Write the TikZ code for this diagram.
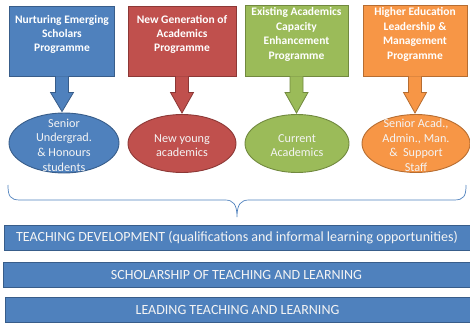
\documentclass[tikz,border=0pt]{standalone}
\usepackage{fontspec}
\setmainfont{Carlito}
\usetikzlibrary{calc,shapes.geometric}
\definecolor{cblue}{HTML}{4F81BD}\definecolor{dblue}{HTML}{385D8A}
\definecolor{cred}{HTML}{C0504D}\definecolor{dred}{HTML}{8C3836}
\definecolor{cgreen}{HTML}{9BBB59}\definecolor{dgreen}{HTML}{71893F}
\definecolor{corange}{HTML}{F79646}\definecolor{dorange}{HTML}{B66D31}
\definecolor{txt}{HTML}{F4F4F4}
\tikzset{
  progbox/.style={draw=#1, line width=0.9pt, minimum width=105pt, minimum height=70pt, inner sep=0pt},
  progtext/.style={text=white, font=\bfseries\fontsize{11.5}{14.4}\selectfont, align=center, inner sep=0pt},
  grpell/.style={ellipse, draw=#1, line width=0.9pt, minimum width=108pt, minimum height=58pt, inner sep=0pt},
  elltext/.style={text=txt, font=\fontsize{12.2}{14.6}\selectfont, align=center, inner sep=0pt},
  bar/.style={fill=cblue, draw=dblue, line width=0.9pt, minimum width=#1, minimum height=25pt, inner sep=0pt, text=txt, font=\fontsize{14}{16}\selectfont},
  bracepath/.style={draw=cblue, line width=0.7pt}
}
\newcommand{\blockarrow}[4]{% from node, to node, fill, draw
  \path let \p1=(#1.south), \p2=(#2.north) in
    coordinate (s) at (\x1,\y1) coordinate (e) at (\x1,\y2);
  \filldraw[fill=#3, draw=#4, line width=0.8pt, line join=miter]
    ($(s)+(-6.5,0)$) -- ($(s)+(-6.5,16)$) -- ($(s)+(-11.5,16)$) -- ($(e)+(0,-1)$)
    -- ($(s)+(11.5,16)$) -- ($(s)+(6.5,16)$) -- ($(s)+(6.5,0)$);
}
\begin{document}
\begin{tikzpicture}[x=1pt,y=-1pt]
\useasboundingbox (0,0) rectangle (470,324);
% program boxes
\node[progbox=dblue, fill=cblue] (b1) at (62,41) {};
\node[progbox=dred, fill=cred, minimum width=108pt] (b2) at (182,41) {};
\node[progbox=dgreen, fill=cgreen, minimum width=103pt, minimum height=71pt] (b3) at (296.5,40.5) {};
\node[progbox=dorange, fill=corange, minimum width=104pt, minimum height=71pt] (b4) at (415,40.5) {};
\node[progtext] (t1) at (62,34.5) {Nurturing Emerging\\Scholars\\Programme};
\node[progtext] (t2) at (182,34.5) {New Generation of\\Academics\\Programme};
\node[progtext] (t3) at (296.5,34.5) {Existing Academics\\Capacity\\Enhancement\\Programme};
\node[progtext] (t4) at (415,34.5) {Higher Education\\Leadership \&\\Management\\Programme};
% group ellipses
\node[grpell=dblue, fill=cblue, minimum width=110pt, minimum height=60pt] (e1) at (64,143) {};
\node[grpell=dred, fill=cred] (e2) at (182,143.5) {};
\node[grpell=dgreen, fill=cgreen, minimum width=104pt] (e3) at (297,143.5) {};
\node[grpell=dorange, fill=corange] (e4) at (416,143.5) {};
\node[elltext] (f1) at (64,145) {Senior\\Undergrad.\\\& Honours\\students};
\node[elltext] (f2) at (182,145.5) {New young\\academics};
\node[elltext] (f3) at (297,145.5) {Current\\Academics};
\node[elltext] (f4) at (416,145.5) {Senior Acad.,\\Admin., Man.\\\&\ \ Support\\Staff};
% block arrows
\blockarrow{b1}{e1}{cblue}{dblue}
\blockarrow{b2}{e2}{cred}{dred}
\blockarrow{b3}{e3}{cgreen}{dgreen}
\blockarrow{b4}{e4}{corange}{dorange}
% brace
\coordinate (bl) at (8,185);
\coordinate (br) at (466,185);
\coordinate (bt) at (237,217);
\draw[bracepath] (bl) .. controls (8,196) and (10,200) .. (20,200) -- (225,200)
  .. controls (233,200) and (237,204) .. (bt)
  .. controls (237,204) and (241,200) .. (249,200) -- (454,200)
  .. controls (464,200) and (466,196) .. (br);
% bars
\node[bar=466pt] (r1) at (237,238) {TEACHING DEVELOPMENT (qualifications and informal learning opportunities)};
\node[bar=467pt] (r2) at (236.5,274.5) {SCHOLARSHIP OF TEACHING AND LEARNING};
\node[bar=465pt] (r3) at (237.5,310) {LEADING TEACHING AND LEARNING};
\end{tikzpicture}
\end{document}
